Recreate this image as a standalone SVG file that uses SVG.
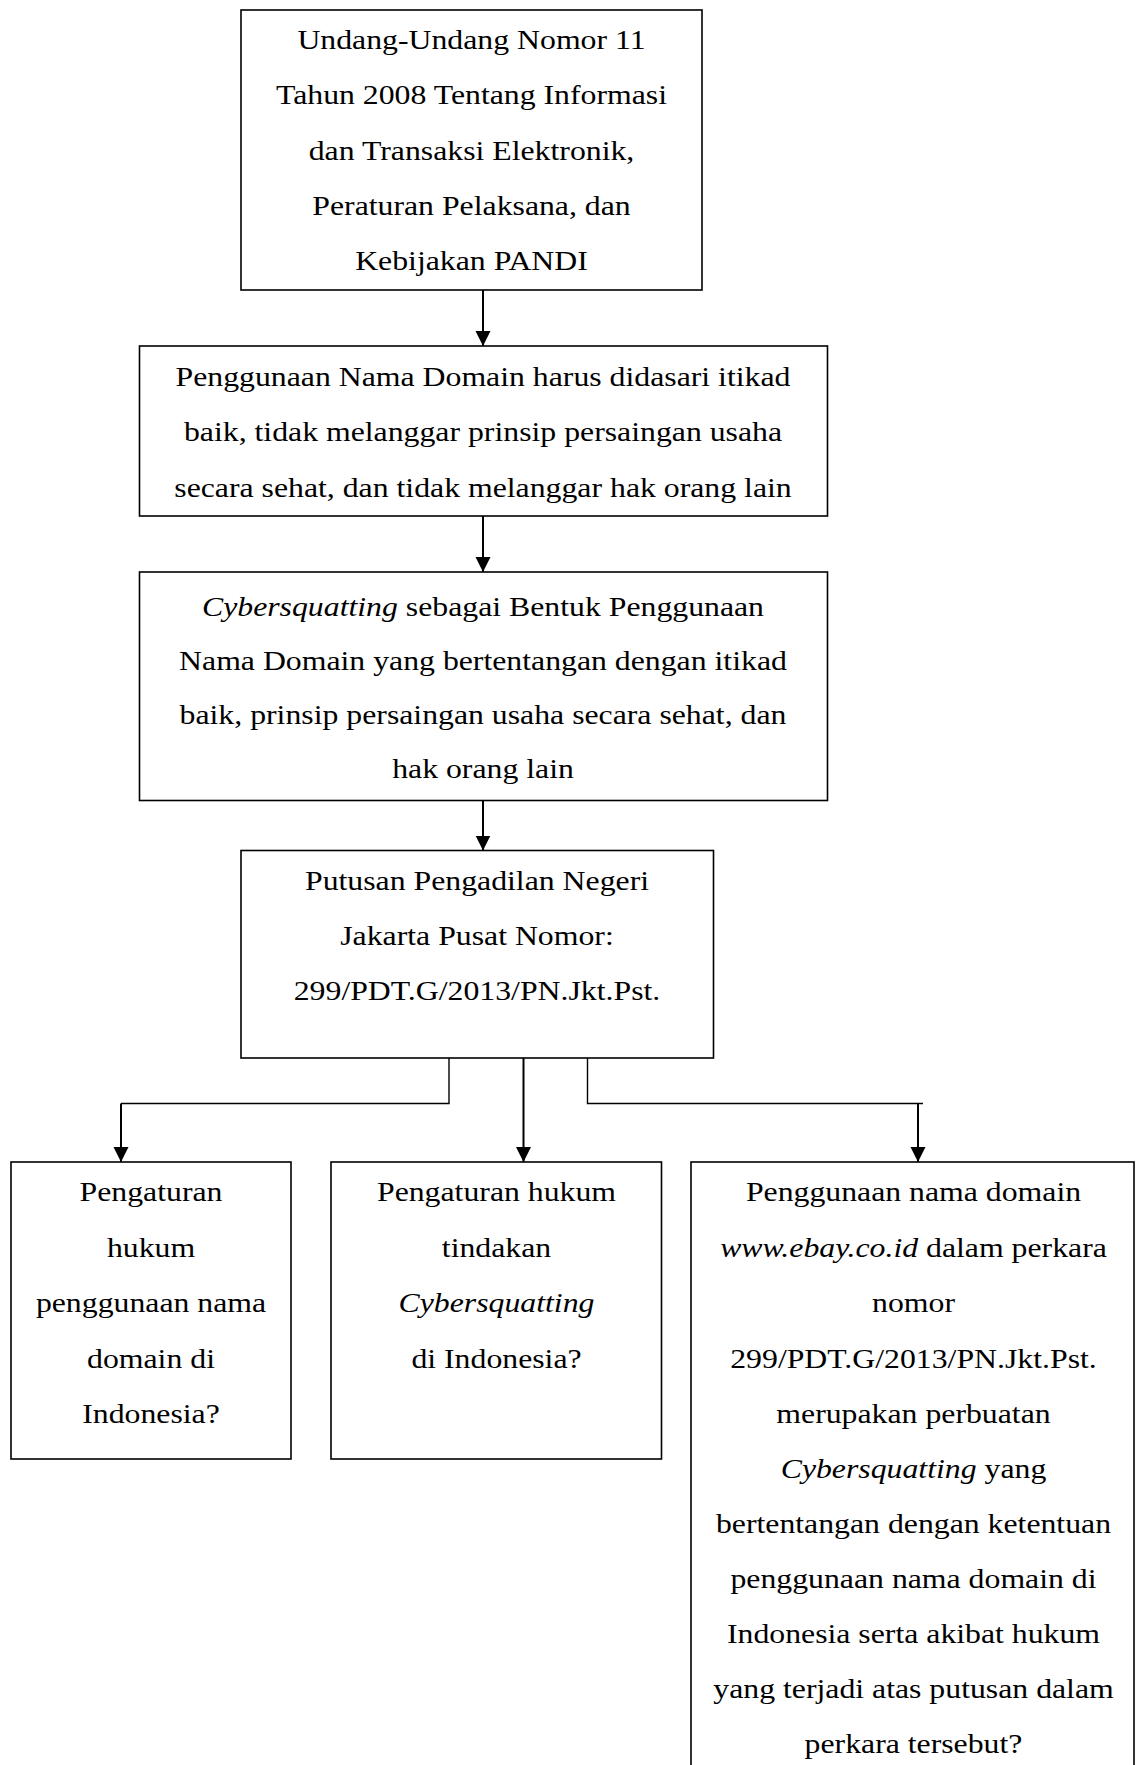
<svg xmlns="http://www.w3.org/2000/svg" width="1136" height="1765" viewBox="0 0 1136 1765">
<style>
.box{fill:#fff;stroke:#000;stroke-width:1.6}
.t{font-family:"Liberation Serif","Times New Roman",serif;font-size:28px;fill:#000;text-anchor:middle}
.i{font-style:italic}
.arr{fill:none;stroke:#000;stroke-width:2}
.elb{fill:none;stroke:#000;stroke-width:1.4}
</style>
<defs>
<marker id="ah" markerUnits="userSpaceOnUse" markerWidth="16" markerHeight="16" refX="15" refY="7.5" orient="auto">
<path d="M0,0 L15,7.5 L0,15 Z" fill="#000"/>
</marker>
</defs>
<rect width="1136" height="1765" fill="#fff"/>
<g id="connectors">
<line class="arr" x1="483" y1="290" x2="483" y2="346" marker-end="url(#ah)"/>
<line class="arr" x1="483" y1="516" x2="483" y2="572" marker-end="url(#ah)"/>
<line class="arr" x1="483" y1="800.5" x2="483" y2="850.5" marker-end="url(#ah)"/>
<line class="arr" x1="523.5" y1="1058" x2="523.5" y2="1162" marker-end="url(#ah)"/>
<polyline class="elb" points="449,1058 449,1103.5 121,1103.5"/>
<line class="arr" x1="121" y1="1103.5" x2="121" y2="1162" marker-end="url(#ah)"/>
<polyline class="elb" points="587.5,1058 587.5,1103.5 923,1103.5"/>
<line class="arr" x1="918" y1="1103.5" x2="918" y2="1162" marker-end="url(#ah)"/>
</g>
<g id="n1">
<rect class="box" x="241" y="10" width="461" height="280"/>
<text class="t" transform="translate(471.5 49) scale(1.135 1)">Undang-Undang Nomor 11</text>
<text class="t" transform="translate(471.5 104.3) scale(1.135 1)">Tahun 2008 Tentang Informasi</text>
<text class="t" transform="translate(471.5 159.6) scale(1.135 1)">dan Transaksi Elektronik,</text>
<text class="t" transform="translate(471.5 215) scale(1.135 1)">Peraturan Pelaksana, dan</text>
<text class="t" transform="translate(471.5 270) scale(1.135 1)">Kebijakan PANDI</text>
</g>
<g id="n2">
<rect class="box" x="139.5" y="346" width="688" height="170"/>
<text class="t" transform="translate(483 386) scale(1.135 1)">Penggunaan Nama Domain harus didasari itikad</text>
<text class="t" transform="translate(483 441) scale(1.135 1)">baik, tidak melanggar prinsip persaingan usaha</text>
<text class="t" transform="translate(483 496.5) scale(1.135 1)">secara sehat, dan tidak melanggar hak orang lain</text>
</g>
<g id="n3">
<rect class="box" x="139.5" y="572" width="688" height="228.5"/>
<text class="t" transform="translate(483 615.5) scale(1.135 1)"><tspan class="i">Cybersquatting</tspan> sebagai Bentuk Penggunaan</text>
<text class="t" transform="translate(483 669.5) scale(1.135 1)">Nama Domain yang bertentangan dengan itikad</text>
<text class="t" transform="translate(483 724) scale(1.135 1)">baik, prinsip persaingan usaha secara sehat, dan</text>
<text class="t" transform="translate(483 778) scale(1.135 1)">hak orang lain</text>
</g>
<g id="n4">
<rect class="box" x="241" y="850.5" width="472.5" height="207.5"/>
<text class="t" transform="translate(477 889.5) scale(1.135 1)">Putusan Pengadilan Negeri</text>
<text class="t" transform="translate(477 945) scale(1.135 1)">Jakarta Pusat Nomor:</text>
<text class="t" transform="translate(477 1000) scale(1.135 1)">299/PDT.G/2013/PN.Jkt.Pst.</text>
</g>
<g id="n5">
<rect class="box" x="11" y="1162" width="280" height="297"/>
<text class="t" transform="translate(151 1201) scale(1.135 1)">Pengaturan</text>
<text class="t" transform="translate(151 1256.5) scale(1.135 1)">hukum</text>
<text class="t" transform="translate(151 1312) scale(1.135 1)">penggunaan nama</text>
<text class="t" transform="translate(151 1367.5) scale(1.135 1)">domain di</text>
<text class="t" transform="translate(151 1423) scale(1.135 1)">Indonesia?</text>
</g>
<g id="n6">
<rect class="box" x="331" y="1162" width="330.5" height="297"/>
<text class="t" transform="translate(496.5 1201) scale(1.135 1)">Pengaturan hukum</text>
<text class="t" transform="translate(496.5 1256.5) scale(1.135 1)">tindakan</text>
<text class="t i" transform="translate(496.5 1312) scale(1.135 1)">Cybersquatting</text>
<text class="t" transform="translate(496.5 1367.5) scale(1.135 1)">di Indonesia?</text>
</g>
<g id="n7">
<rect class="box" x="691" y="1162" width="443" height="640"/>
<text class="t" transform="translate(913.5 1201) scale(1.135 1)">Penggunaan nama domain</text>
<text class="t" transform="translate(913.5 1256.5) scale(1.135 1)"><tspan class="i">www.ebay.co.id</tspan> dalam perkara</text>
<text class="t" transform="translate(913.5 1312) scale(1.135 1)">nomor</text>
<text class="t" transform="translate(913.5 1367.5) scale(1.135 1)">299/PDT.G/2013/PN.Jkt.Pst.</text>
<text class="t" transform="translate(913.5 1423) scale(1.135 1)">merupakan perbuatan</text>
<text class="t" transform="translate(913.5 1478) scale(1.135 1)"><tspan class="i">Cybersquatting</tspan> yang</text>
<text class="t" transform="translate(913.5 1533) scale(1.135 1)">bertentangan dengan ketentuan</text>
<text class="t" transform="translate(913.5 1588) scale(1.135 1)">penggunaan nama domain di</text>
<text class="t" transform="translate(913.5 1643) scale(1.135 1)">Indonesia serta akibat hukum</text>
<text class="t" transform="translate(913.5 1698) scale(1.135 1)">yang terjadi atas putusan dalam</text>
<text class="t" transform="translate(913.5 1753) scale(1.135 1)">perkara tersebut?</text>
</g>
</svg>
